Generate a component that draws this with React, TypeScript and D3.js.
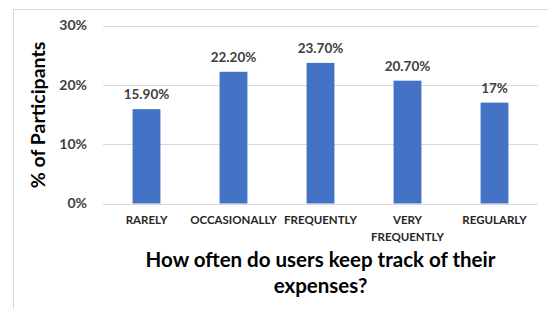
import React from "react";
import * as d3 from "d3";

const categories = ["RARELY", "OCCASIONALLY", "FREQUENTLY", "VERY FREQUENTLY", "REGULARLY"];
const categoryLines = [["RARELY"], ["OCCASIONALLY"], ["FREQUENTLY"], ["VERY", "FREQUENTLY"], ["REGULARLY"]];
const values = [15.9, 22.2, 23.7, 20.7, 17];
const valueLabels = ["15.90%", "22.20%", "23.70%", "20.70%", "17%"];
const yTicks = [0, 10, 20, 30];

const W = 548;
const H = 309;
const font = "Lato, 'Open Sans', sans-serif";

export default function App() {
  const x = d3.scaleBand<string>().domain(categories).range([103, 538]).paddingInner(0.68).paddingOuter(0.34);
  const y = d3.scaleLinear().domain([0, 30]).range([203.5, 25.5]);
  return (
    <svg width={W} height={H} style={{ position: "absolute", left: 0, top: 0, background: "#fff" }}>
      <rect x={0} y={0} width={W} height={H} fill="#fff" />
      <line x1={13.5} x2={13.5} y1={9.5} y2={H} stroke="#d9d9d9" />
      <line x1={13.5} x2={W} y1={9.5} y2={9.5} stroke="#d9d9d9" />
      {yTicks.map((t) => (
        <g key={t}>
          <line x1={103} x2={538} y1={Math.round(y(t)) + 0.5} y2={Math.round(y(t)) + 0.5} stroke="#d9d9d9" />
          <text x={87} y={y(t)} dy="0.35em" textAnchor="end" fontFamily={font} fontWeight={700} fontSize={14} fill="#404040">
            {t}%
          </text>
        </g>
      ))}
      {categories.map((c, i) => (
        <g key={c}>
          <rect x={x(c)} y={y(values[i])} width={x.bandwidth()} height={y(0) - y(values[i])} fill="#4472c4" />
          <text x={(x(c) as number) + x.bandwidth() / 2} y={y(values[i]) - 10} textAnchor="middle" fontFamily={font} fontWeight={700} fontSize={13.5} fill="#404040">
            {valueLabels[i]}
          </text>
          {categoryLines[i].map((ln, j) => (
            <text key={j} x={(x(c) as number) + x.bandwidth() / 2} y={224 + j * 17} textAnchor="middle" fontFamily={font} fontWeight={700} fontSize={11.5} fill="#262626">
              {ln}
            </text>
          ))}
        </g>
      ))}
      <text x={320.5} y={267} textAnchor="middle" fontFamily={font} fontWeight={700} fontSize={20.5} fill="#000">
        How often do users keep track of their
      </text>
      <text x={320.5} y={293} textAnchor="middle" fontFamily={font} fontWeight={700} fontSize={20.5} fill="#000">
        expenses?
      </text>
      <text transform={`translate(45,115) rotate(-90)`} textAnchor="middle" fontFamily={font} fontWeight={700} fontSize={19.5} fill="#000">
        % of Participants
      </text>
    </svg>
  );
}
